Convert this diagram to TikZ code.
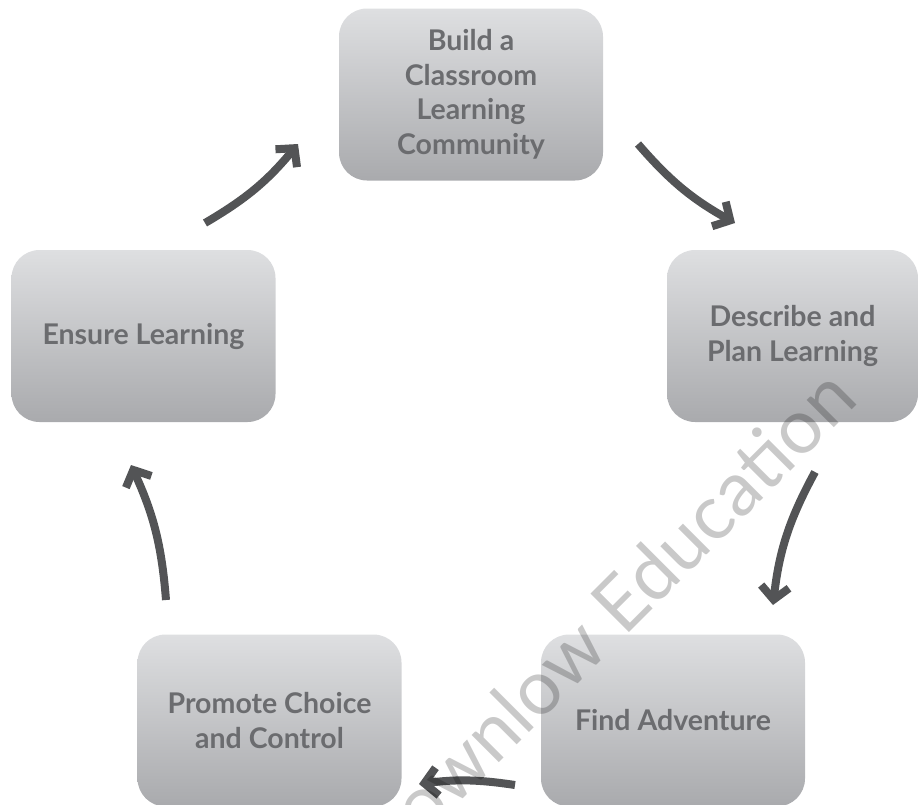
\documentclass[tikz,border=0pt]{standalone}
\usepackage{fontspec}
\setmainfont{Lato}
\usetikzlibrary{arrows.meta}
\definecolor{boxtext}{HTML}{6B6C6F}
\definecolor{boxtop}{HTML}{DEDFE1}
\definecolor{boxbot}{HTML}{A9AAAD}
\definecolor{arrowgray}{HTML}{535456}
\begin{document}
\begin{tikzpicture}[x=1pt,y=-1pt,
  stagebox/.style={rectangle, rounded corners=28pt, top color=boxtop, bottom color=boxbot,
    draw=none, minimum width=264pt, minimum height=172pt, align=center, text=boxtext,
    font=\fontsize{28.5}{34.5}\selectfont\bfseries, inner sep=0pt},
  cyclearrow/.style={draw=arrowgray, line width=8pt, -{Straight Barb[length=13pt,width=28pt]}},
  watermark/.style={font=\fontsize{76}{76}\selectfont, text=black, text opacity=0.21, inner sep=0pt}
]
\useasboundingbox (0,0) rectangle (919,804);
\clip (0,0) rectangle (919,804);

% the five stages of the cycle
\node[stagebox] (build) at (471,94.5) {Build a\\Classroom\\Learning\\Community};
\node[stagebox, minimum width=251pt] (describe) at (792.5,336) {Describe and\\Plan Learning};
\node[stagebox] (find) at (673,720.5) {Find Adventure};
\node[stagebox] (promote) at (269.5,720.5) {Promote Choice\\and Control};
\node[stagebox] (ensure) at (143.5,336) {Ensure Learning};

% arrow ends between the stages
\coordinate (a1s) at (638,144);  \coordinate (a1e) at (735,223);
\coordinate (a2s) at (815,472);  \coordinate (a2e) at (773,605);
\coordinate (a3s) at (515,785);  \coordinate (a3e) at (419,784);
\coordinate (a4s) at (166,600);  \coordinate (a4e) at (131,465);
\coordinate (a5s) at (205,223);  \coordinate (a5e) at (298,144);

\draw[cyclearrow] (a1s) to[bend right=10] (a1e);
\draw[cyclearrow] (a2s) to[bend right=11] (a2e);
\draw[cyclearrow] (a3s) to[bend right=8] (a3e);
\draw[cyclearrow] (a4s) to[bend right=10] (a4e);
\draw[cyclearrow] (a5s) to[bend right=10] (a5e);

% publisher mark across the page
\node[watermark, rotate=45, anchor=base east] (mark) at (860,402) {Brownlow Education};
\end{tikzpicture}
\end{document}
